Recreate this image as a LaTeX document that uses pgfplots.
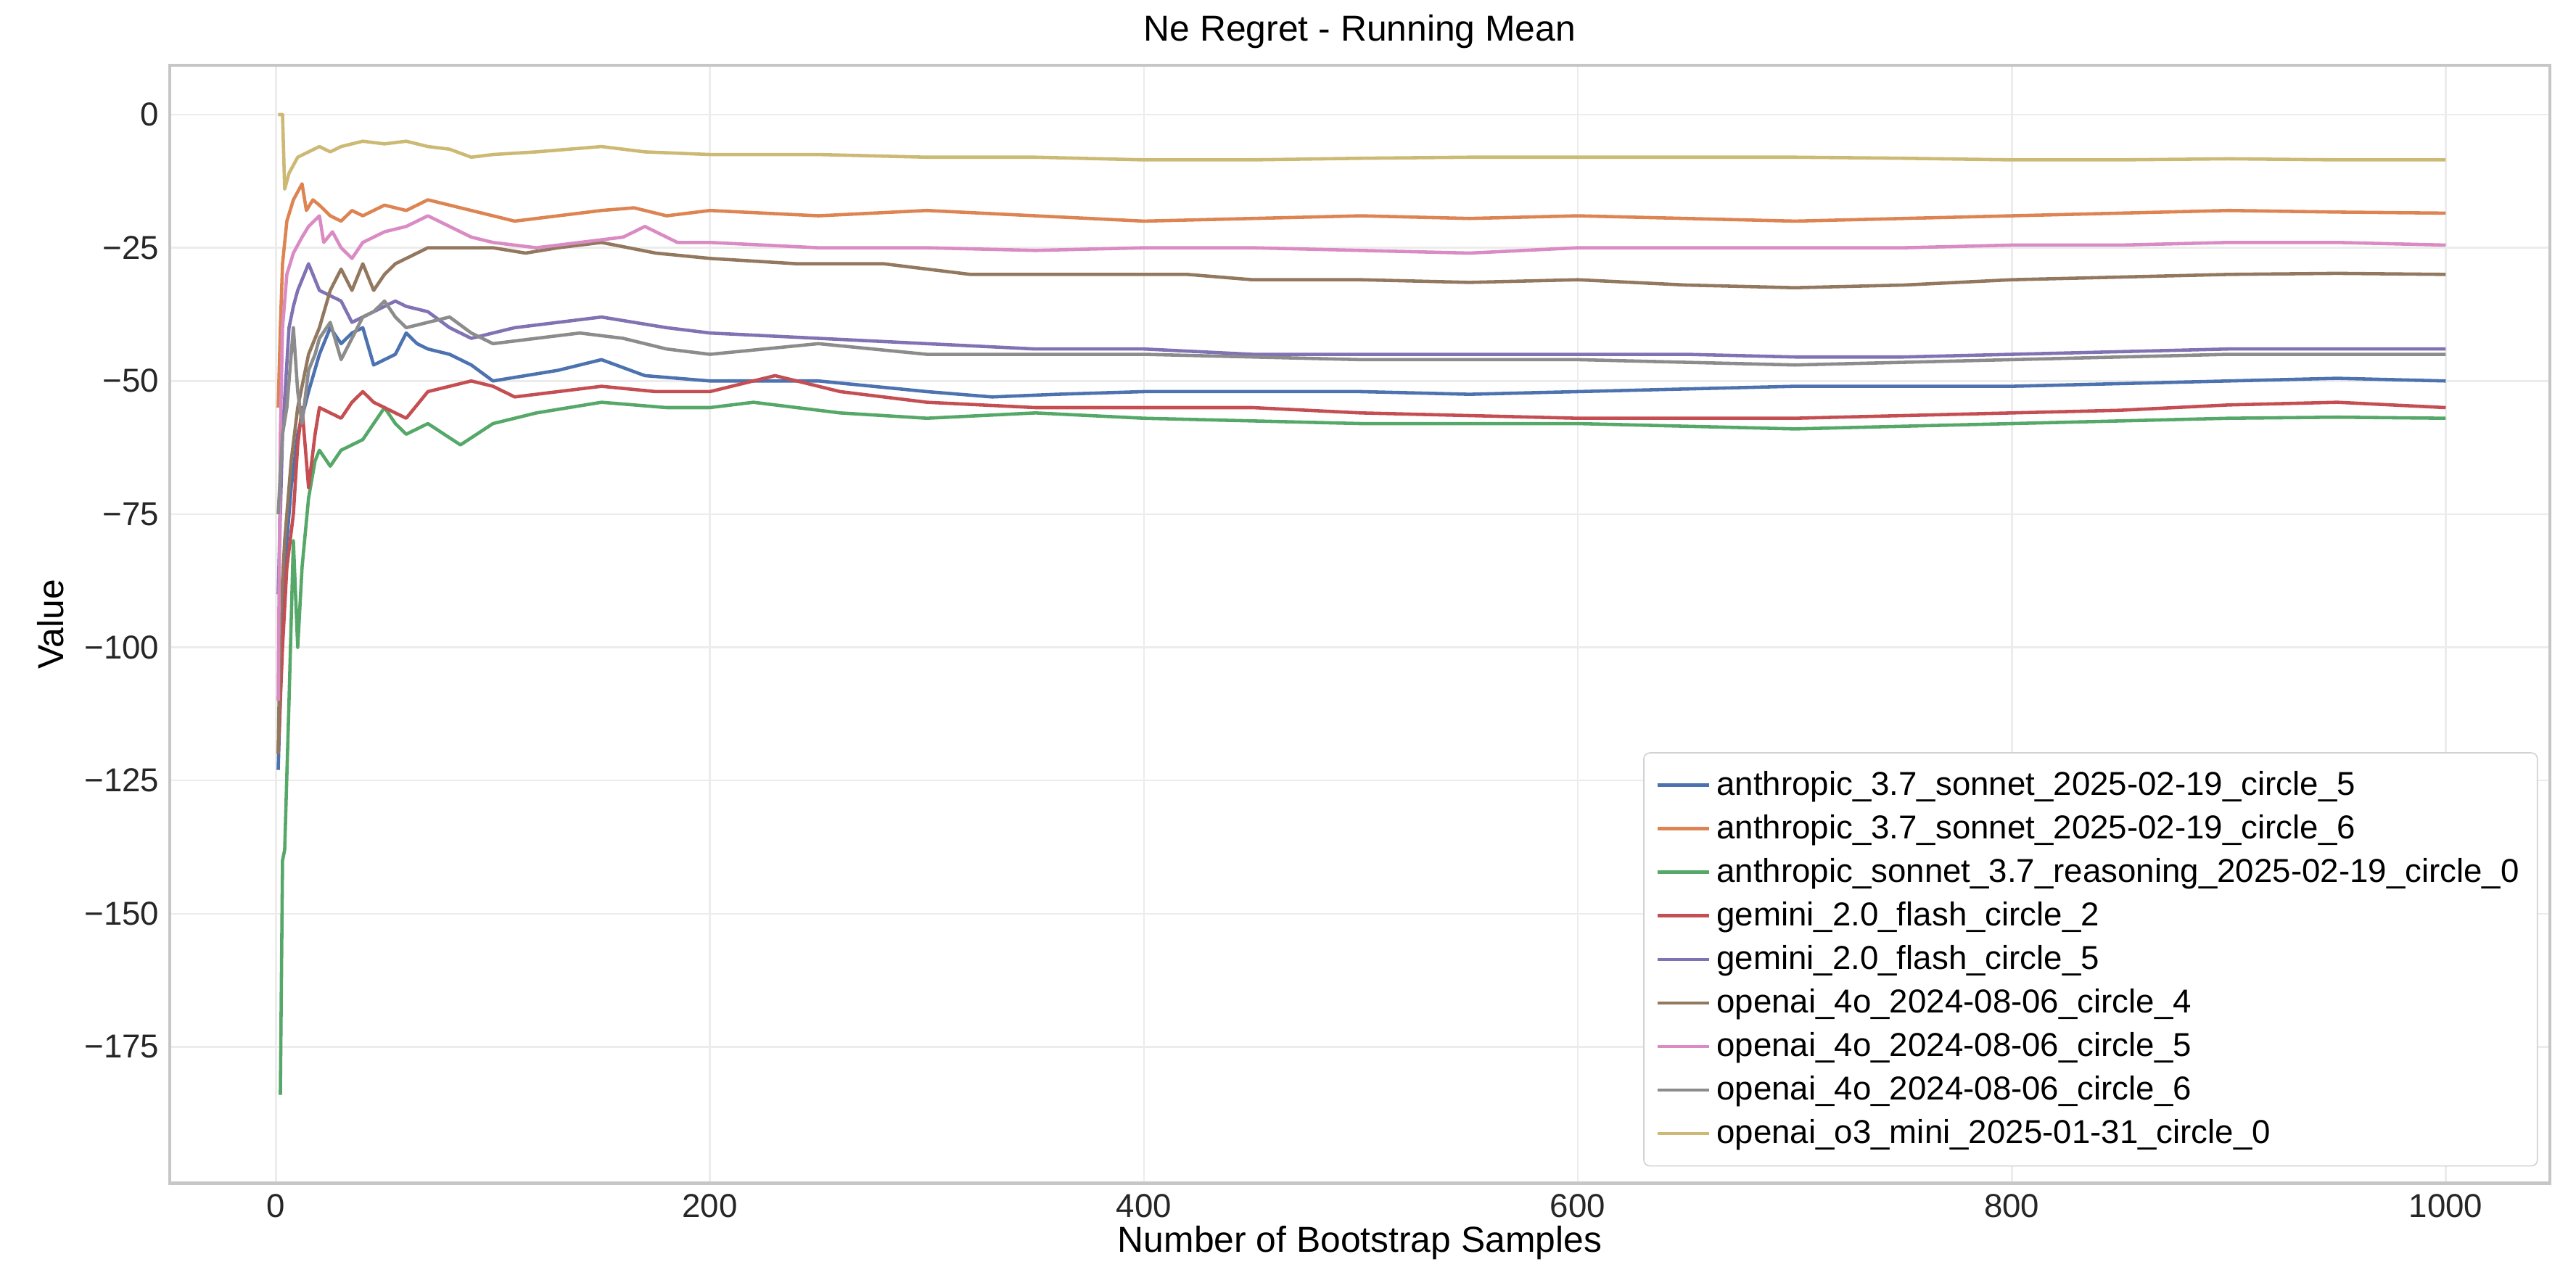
\documentclass[border=0pt]{standalone}
\usepackage{pgfplots}
\pgfplotsset{compat=1.18}
\usepackage{fontspec}
\setmainfont{Liberation Sans}
\definecolor{c1}{HTML}{4C72B0}\definecolor{c2}{HTML}{DD8452}\definecolor{c3}{HTML}{55A868}
\definecolor{c4}{HTML}{C44E52}\definecolor{c5}{HTML}{8172B3}\definecolor{c6}{HTML}{937860}
\definecolor{c7}{HTML}{DA8BC3}\definecolor{c8}{HTML}{8C8C8C}\definecolor{c9}{HTML}{CCB974}
\begin{document}
\begin{tikzpicture}
\useasboundingbox (-0.78in,-0.42in) rectangle (11.06in,5.44in);
\begin{axis}[scale only axis, width=10.94in, height=5.14in,
 xmin=-49, xmax=1048, ymin=-200.6, ymax=9.26,
 xtick={0,200,...,1000}, xticklabels={0,200,400,600,800,1000},
 ytick={-175,-150,...,0}, yticklabels={−175,−150,−125,−100,−75,−50,−25,0},
 grid=major, major grid style={gray!15, line width=0.6pt},
 axis line style={gray!45, line width=1pt}, tick style={draw=none},
 ticklabel style={font=\fontsize{11}{13}\selectfont, text=black!85},
 label style={font=\fontsize{12}{14}\selectfont},
 xlabel style={yshift=4pt},
 title style={font=\fontsize{12}{14}\selectfont, yshift=-4pt},
 title={Ne Regret - Running Mean},
 xlabel={Number of Bootstrap Samples}, ylabel={Value},
 legend style={font=\fontsize{11}{14}\selectfont, draw=gray!35, rounded corners=2pt, at={(0.995,0.015)}, anchor=south east, inner sep=4pt, row sep=1pt},
 legend cell align=left,
 every axis plot/.append style={line width=1.1pt, line join=round},
]
\addplot[c1] coordinates {(1,-123)(3,-95)(5,-80)(7,-70)(10,-60)(15,-52)(20,-45)(25,-40)(30,-43)(35,-41)(40,-40)(45,-47)(50,-46)(55,-45)(60,-41)(65,-43)(70,-44)(80,-45)(90,-47)(100,-50)(115,-49)(130,-48)(150,-46)(170,-49)(200,-50)(230,-50)(250,-50)(300,-52)(330,-53)(360,-52.5)(400,-52)(450,-52)(500,-52)(550,-52.5)(600,-52)(650,-51.5)(700,-51)(750,-51)(800,-51)(850,-50.5)(900,-50)(950,-49.5)(1000,-50)};
\addlegendentry{anthropic\_3.7\_sonnet\_2025-02-19\_circle\_5}
\addplot[c2] coordinates {(1,-55)(2,-40)(3,-28)(5,-20)(8,-16)(12,-13)(14,-18)(17,-16)(20,-17)(25,-19)(30,-20)(35,-18)(40,-19)(50,-17)(60,-18)(70,-16)(80,-17)(90,-18)(100,-19)(110,-20)(130,-19)(150,-18)(165,-17.5)(180,-19)(200,-18)(250,-19)(300,-18)(350,-19)(400,-20)(450,-19.5)(500,-19)(550,-19.5)(600,-19)(650,-19.5)(700,-20)(750,-19.5)(800,-19)(850,-18.5)(900,-18)(950,-18.3)(1000,-18.5)};
\addlegendentry{anthropic\_3.7\_sonnet\_2025-02-19\_circle\_6}
\addplot[c3] coordinates {(2,-184)(3,-140)(4,-138)(6,-110)(8,-80)(10,-100)(12,-85)(15,-72)(18,-65)(20,-63)(25,-66)(30,-63)(35,-62)(40,-61)(45,-58)(50,-55)(55,-58)(60,-60)(70,-58)(85,-62)(100,-58)(120,-56)(150,-54)(180,-55)(200,-55)(220,-54)(260,-56)(300,-57)(350,-56)(400,-57)(450,-57.5)(500,-58)(550,-58)(600,-58)(650,-58.5)(700,-59)(750,-58.5)(800,-58)(850,-57.5)(900,-57)(950,-56.8)(1000,-57)};
\addlegendentry{anthropic\_sonnet\_3.7\_reasoning\_2025-02-19\_circle\_0}
\addplot[c4] coordinates {(1,-120)(3,-100)(5,-85)(8,-75)(10,-62)(12,-55)(15,-70)(18,-60)(20,-55)(25,-56)(30,-57)(35,-54)(40,-52)(45,-54)(50,-55)(55,-56)(60,-57)(70,-52)(80,-51)(90,-50)(100,-51)(110,-53)(130,-52)(150,-51)(175,-52)(200,-52)(230,-49)(260,-52)(300,-54)(350,-55)(400,-55)(450,-55)(500,-56)(550,-56.5)(600,-57)(650,-57)(700,-57)(750,-56.5)(800,-56)(850,-55.5)(900,-54.5)(950,-54)(1000,-55)};
\addlegendentry{gemini\_2.0\_flash\_circle\_2}
\addplot[c5] coordinates {(1,-90)(3,-60)(6,-40)(8,-36)(10,-33)(13,-30)(15,-28)(18,-31)(20,-33)(25,-34)(30,-35)(35,-39)(40,-38)(45,-37)(55,-35)(60,-36)(70,-37)(80,-40)(90,-42)(100,-41)(110,-40)(130,-39)(150,-38)(165,-39)(180,-40)(200,-41)(250,-42)(300,-43)(350,-44)(400,-44)(450,-45)(500,-45)(550,-45)(600,-45)(650,-45)(700,-45.5)(750,-45.5)(800,-45)(850,-44.5)(900,-44)(950,-44)(1000,-44)};
\addlegendentry{gemini\_2.0\_flash\_circle\_5}
\addplot[c6] coordinates {(1,-120)(2,-95)(4,-80)(7,-65)(10,-55)(15,-45)(20,-40)(25,-33)(30,-29)(35,-33)(40,-28)(45,-33)(50,-30)(55,-28)(60,-27)(70,-25)(85,-25)(100,-25)(115,-26)(130,-25)(150,-24)(175,-26)(200,-27)(240,-28)(280,-28)(320,-30)(350,-30)(420,-30)(450,-31)(500,-31)(550,-31.5)(600,-31)(650,-32)(700,-32.5)(750,-32)(800,-31)(850,-30.5)(900,-30)(950,-29.8)(1000,-30)};
\addlegendentry{openai\_4o\_2024-08-06\_circle\_4}
\addplot[c7] coordinates {(1,-110)(2,-60)(3,-40)(5,-30)(8,-26)(12,-23)(15,-21)(20,-19)(22,-24)(26,-22)(30,-25)(35,-27)(40,-24)(50,-22)(60,-21)(70,-19)(80,-21)(90,-23)(100,-24)(120,-25)(140,-24)(160,-23)(170,-21)(185,-24)(200,-24)(250,-25)(300,-25)(350,-25.5)(400,-25)(450,-25)(500,-25.5)(550,-26)(600,-25)(650,-25)(700,-25)(750,-25)(800,-24.5)(850,-24.5)(900,-24)(950,-24)(1000,-24.5)};
\addlegendentry{openai\_4o\_2024-08-06\_circle\_5}
\addplot[c8] coordinates {(1,-75)(3,-60)(5,-55)(8,-40)(10,-52)(12,-58)(15,-48)(18,-45)(20,-42)(25,-39)(30,-46)(35,-42)(40,-38)(45,-37)(50,-35)(55,-38)(60,-40)(70,-39)(80,-38)(90,-41)(100,-43)(120,-42)(140,-41)(160,-42)(180,-44)(200,-45)(250,-43)(300,-45)(350,-45)(400,-45)(450,-45.5)(500,-46)(550,-46)(600,-46)(650,-46.5)(700,-47)(750,-46.5)(800,-46)(850,-45.5)(900,-45)(950,-45)(1000,-45)};
\addlegendentry{openai\_4o\_2024-08-06\_circle\_6}
\addplot[c9] coordinates {(1,0)(3,0)(4,-14)(6,-11)(10,-8)(15,-7)(20,-6)(25,-7)(30,-6)(40,-5)(50,-5.5)(60,-5)(70,-6)(80,-6.5)(90,-8)(100,-7.5)(120,-7)(150,-6)(170,-7)(200,-7.5)(250,-7.5)(300,-8)(350,-8)(400,-8.5)(450,-8.5)(500,-8.2)(550,-8)(600,-8)(650,-8)(700,-8)(750,-8.2)(800,-8.5)(850,-8.5)(900,-8.3)(950,-8.5)(1000,-8.5)};
\addlegendentry{openai\_o3\_mini\_2025-01-31\_circle\_0}
\end{axis}
\end{tikzpicture}
\end{document}
